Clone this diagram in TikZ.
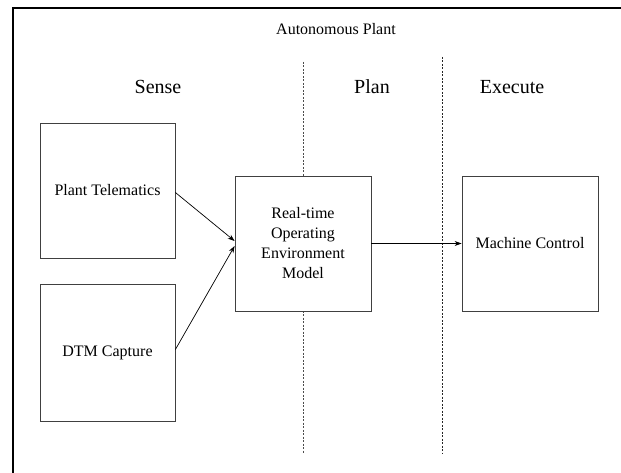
\documentclass[tikz,border=0pt]{standalone}
\usepackage{fontspec}
\setmainfont{LiberationSerif-Regular.ttf}
\usetikzlibrary{arrows.meta}
\tikzset{
  blockbox/.style={draw=black!75, line width=0.8pt, fill=white, rectangle, align=center,
    font=\fontsize{16}{20}\selectfont, inner sep=0pt},
  header/.style={font=\fontsize{20}{24}\selectfont, inner sep=0pt},
  sep/.style={draw=black!70, line width=0.8pt, dash pattern=on 2pt off 1.5pt},
  flow/.style={draw=black, line width=0.7pt, -{Stealth[length=7pt,width=5pt]}},
  frame/.style={draw=black, line width=1.3pt}
}
\begin{document}
\begin{tikzpicture}[x=1pt,y=-1pt]
\useasboundingbox (0,0) rectangle (621,473);
% frame (top and left edges visible)
\coordinate (fbl) at (13,473);
\coordinate (ftl) at (13,8);
\coordinate (ftr) at (621,8);
\draw[frame] (fbl) -- (ftl) -- (ftr);
% title and headers
\node[font=\fontsize{16}{20}\selectfont, inner sep=0pt] (title) at (336,29) {Autonomous Plant};
\node[header] (sense) at (158,87) {Sense};
\node[header] (plan) at (372,87) {Plan};
\node[header] (exec) at (512,87) {Execute};
% separators
\coordinate (s1t) at (303,62);
\coordinate (s1b) at (303,453);
\coordinate (s2t) at (442,57);
\coordinate (s2b) at (442,453);
\draw[sep] (s1t) -- (s1b);
\draw[sep, draw=black!85] (s2t) -- (s2b);
% blocks
\node[blockbox, minimum width=135pt, minimum height=135pt] (pt) at (107.5,190.5) {Plant Telematics};
\node[blockbox, minimum width=135pt, minimum height=137pt] (dtm) at (107.5,352.5) {DTM Capture};
\node[blockbox, minimum width=136pt, minimum height=135pt] (rt) at (303,243.5) {Real-time\\Operating\\Environment\\Model};
\node[blockbox, minimum width=136pt, minimum height=135pt] (mc) at (530,243.5) {Machine Control};
% connectors
\draw[flow] ([yshift=-2pt]pt.east) -- ([yshift=2.5pt]rt.west);
\draw[flow] ([yshift=3pt]dtm.east) -- ([yshift=-2.5pt]rt.west);
\draw[flow] (rt.east) -- (mc.west);
\end{tikzpicture}
\end{document}
